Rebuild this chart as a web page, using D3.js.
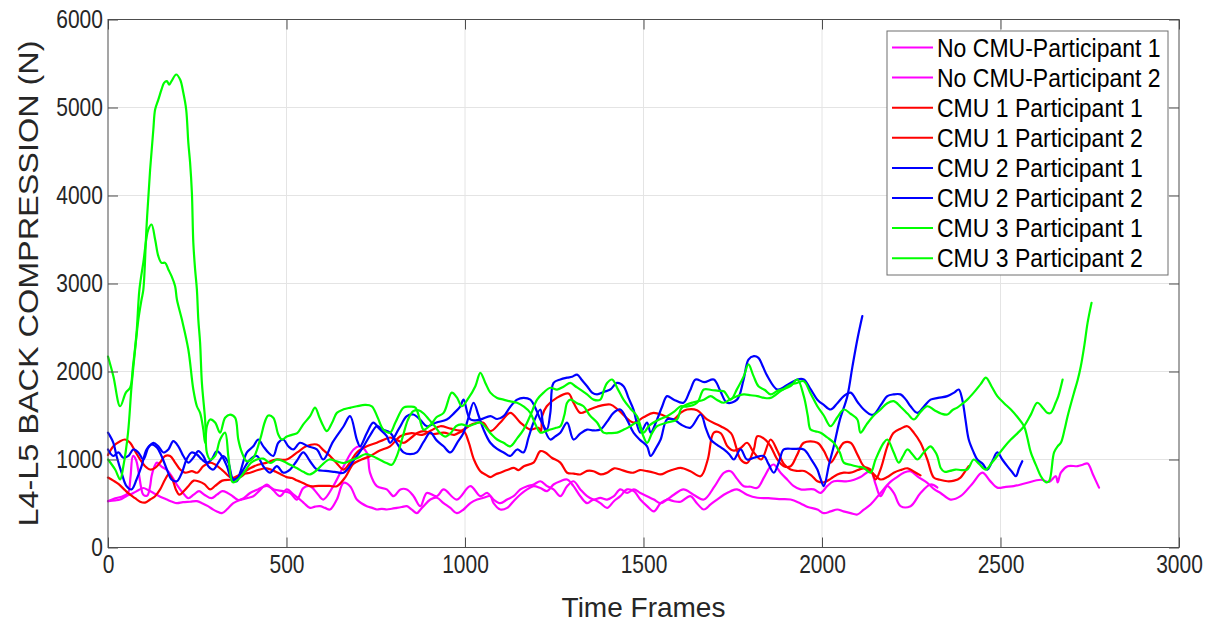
<!DOCTYPE html>
<html>
<head>
<meta charset="utf-8">
<script src="https://cdn.jsdelivr.net/npm/d3@7"></script>
<style>
  body { margin: 0; background: #fff; }
  svg { display: block; font-family: "Liberation Sans", Arial, sans-serif; }
</style>
</head>
<body>
<svg id="chart" width="1219" height="623"></svg>
<script>
// Axis ticks
const xTicks = [0, 500, 1000, 1500, 2000, 2500, 3000];
const yTicks = [0, 1000, 2000, 3000, 4000, 5000, 6000];

// Legend entries and colours (plot order)
const seriesNames = [
  "No CMU-Participant 1", "No CMU-Participant 2",
  "CMU 1 Participant 1", "CMU 1 Participant 2",
  "CMU 2 Participant 1", "CMU 2 Participant 2",
  "CMU 3 Participant 1", "CMU 3 Participant 2"
];
const seriesColors = ["#ff00ff", "#ff00ff", "#ff0000", "#ff0000", "#0000ff", "#0000ff", "#00ff00", "#00ff00"];

// L4-L5 compression (N) per time frame: [frame, value]
const noCmuP1 = [[0,526],[20,535],[34,545],[50,580],[71,620],[85,650],[99,676],[113,650],[127,620],[145,580],[165,545],[180,520],[193,504],[210,515],[230,520],[249,526],[265,500],[280,470],[295,430],[305,410],[319,390],[335,440],[351,504],[370,540],[389,560],[407,583],[425,650],[445,716],[463,650],[482,583],[501,660],[520,600],[538,545],[550,500],[566,450],[580,465],[594,470],[608,450],[622,432],[641,545],[660,735],[678,697],[697,545],[711,500],[725,470],[740,450],[753,432],[767,440],[781,432],[795,440],[809,450],[823,460],[837,470],[851,430],[865,390],[875,430],[884,470],[903,545],[921,565],[940,504],[959,450],[977,390],[996,432],[1015,504],[1034,545],[1052,565],[1071,583],[1080,504],[1099,432],[1118,450],[1136,526],[1155,602],[1174,660],[1192,697],[1211,676],[1230,640],[1248,716],[1267,753],[1286,773],[1304,697],[1323,583],[1342,504],[1360,545],[1379,504],[1398,450],[1417,526],[1435,583],[1454,660],[1473,640],[1491,545],[1510,470],[1529,410],[1548,504],[1566,545],[1585,526],[1604,520],[1631,583],[1650,500],[1669,432],[1688,490],[1706,545],[1725,600],[1744,640],[1762,660],[1790,600],[1819,565],[1850,560],[1880,550],[1912,545],[1940,500],[1960,460],[1987,432],[2005,390],[2024,410],[2043,432],[2060,410],[2080,390],[2099,375],[2117,430],[2136,488],[2164,620],[2190,740],[2210,800],[2229,850],[2248,867],[2270,800],[2295,735],[2315,660],[2332,620],[2360,545],[2388,583],[2420,720],[2449,850],[2470,760],[2491,680],[2515,690],[2537,697],[2570,730],[2613,770],[2636,745],[2655,810],[2660,740],[2669,850],[2688,924],[2716,924],[2730,940],[2744,955],[2760,820],[2776,680]];

const noCmuP2 = [[0,526],[20,560],[40,580],[56,620],[63,800],[70,1040],[78,1000],[86,850],[92,700],[99,600],[110,590],[118,700],[122,810],[130,920],[137,965],[150,920],[165,880],[180,800],[195,700],[210,620],[225,560],[240,600],[255,640],[270,600],[290,560],[305,600],[320,640],[335,620],[350,580],[365,540],[380,560],[398,620],[420,660],[445,700],[465,660],[490,640],[510,620],[529,545],[547,676],[566,697],[585,620],[603,545],[631,697],[660,924],[688,1114],[706,1150],[725,1076],[734,848],[753,697],[781,660],[800,583],[819,660],[837,660],[856,583],[875,470],[893,620],[921,583],[940,660],[977,545],[1015,697],[1043,583],[1062,620],[1080,545],[1099,504],[1118,545],[1136,583],[1155,660],[1174,697],[1192,716],[1211,753],[1230,697],[1248,660],[1267,583],[1286,697],[1304,753],[1323,660],[1342,583],[1360,545],[1379,565],[1398,545],[1417,583],[1435,660],[1454,620],[1473,660],[1491,620],[1510,583],[1529,545],[1548,504],[1566,545],[1585,600],[1612,660],[1640,600],[1669,545],[1700,700],[1725,848],[1744,867],[1762,780],[1781,697],[1800,690],[1819,678],[1838,800],[1856,924],[1865,943],[1884,850],[1903,770],[1920,700],[1940,660],[1977,660],[1996,620],[2015,700],[2033,753],[2071,753],[2090,770],[2108,800],[2136,867],[2150,720],[2164,583],[2183,697],[2201,620],[2220,470],[2248,470],[2276,620],[2304,716],[2323,682]];

const cmu1P1 = [[0,795],[15,760],[30,720],[48,650],[62,600],[76,560],[90,520],[104,510],[118,545],[132,583],[146,660],[160,773],[170,830],[180,780],[190,660],[200,600],[212,640],[225,697],[240,760],[255,750],[270,720],[286,660],[300,700],[320,760],[347,773],[370,800],[385,840],[398,850],[420,880],[445,900],[470,860],[485,830],[500,800],[515,790],[530,760],[548,730],[566,697],[590,700],[620,700],[641,697],[665,800],[687,950],[710,1000],[735,1040],[760,1100],[790,1150],[819,1265],[850,1300],[880,1280],[905,1330],[931,1378],[960,1350],[990,1330],[1020,1400],[1050,1420],[1071,1322],[1099,1420],[1127,1530],[1155,1420],[1183,1340],[1206,1360],[1213,1322],[1216,1492],[1229,1605],[1257,1700],[1290,1750],[1304,1645],[1323,1530],[1345,1560],[1370,1600],[1407,1625],[1430,1560],[1472,1420],[1500,1480],[1528,1530],[1556,1500],[1584,1455],[1604,1530],[1622,1568],[1650,1560],[1678,1455],[1716,1378],[1745,1300],[1772,1000],[1790,960],[1809,1114],[1819,1265],[1840,1230],[1856,1150],[1875,1000],[1893,924],[1912,924],[1930,1050],[1949,1190],[1987,1190],[2005,1100],[2024,965],[2043,1080],[2061,1190],[2080,1190],[2100,1050],[2117,924],[2136,886],[2150,773],[2165,900],[2183,1150],[2200,1300],[2220,1350],[2239,1378],[2258,1300],[2276,1190],[2295,1000],[2313,795],[2330,770],[2351,753],[2370,760],[2388,795],[2400,860],[2411,924]];

const cmu1P2 = [[0,1050],[15,1150],[34,1208],[48,1227],[62,1190],[76,1095],[90,1000],[104,924],[118,886],[132,905],[146,965],[160,1040],[174,1040],[188,965],[202,886],[216,850],[235,867],[250,850],[267,924],[286,965],[300,943],[320,880],[347,790],[370,830],[398,900],[420,940],[445,965],[470,1000],[500,1000],[530,1080],[555,1150],[585,1170],[605,1100],[622,1040],[640,960],[660,886],[680,980],[697,1080],[725,1150],[753,1190],[770,1220],[790,1250],[810,1220],[828,1190],[850,1250],[866,1300],[884,1322],[910,1290],[940,1305],[970,1280],[996,1322],[1010,1200],[1025,1000],[1043,867],[1057,830],[1071,800],[1085,830],[1099,850],[1118,880],[1137,905],[1150,880],[1165,924],[1192,965],[1211,1095],[1225,1080],[1243,1020],[1267,965],[1286,850],[1305,840],[1323,830],[1342,870],[1360,867],[1380,830],[1398,850],[1418,900],[1435,886],[1455,860],[1472,850],[1490,880],[1510,867],[1530,850],[1548,830],[1566,860],[1584,886],[1604,905],[1630,870],[1660,810],[1680,1000],[1697,1305],[1716,1300],[1735,1150],[1753,1100],[1772,1130],[1790,1190],[1809,1080],[1830,1000],[1856,1227],[1875,1100],[1893,950],[1912,886],[1930,870],[1950,870],[1970,820],[1987,753],[2005,740],[2024,780],[2043,830],[2061,850],[2080,850],[2100,880],[2117,900],[2136,867],[2164,773],[2183,800],[2201,850],[2220,880],[2240,900],[2258,860],[2276,820]];

const cmu2P1 = [[0,1114],[15,1040],[29,1080],[43,1020],[57,1040],[71,1114],[85,1080],[99,1000],[113,1136],[127,1190],[141,1150],[155,1080],[169,1114],[183,1208],[197,1150],[211,1040],[225,965],[239,1020],[253,1095],[267,1040],[281,924],[295,886],[309,965],[323,1040],[337,965],[351,773],[365,800],[379,886],[398,1000],[417,1040],[435,924],[454,850],[473,924],[491,850],[510,886],[528,980],[547,1080],[566,980],[585,886],[610,870],[635,860],[660,850],[690,1000],[716,1150],[735,1280],[753,1378],[770,1340],[790,1305],[810,1180],[828,1080],[846,1060],[865,1080],[884,1200],[903,1305],[920,1220],[940,1150],[959,1080],[978,1190],[996,1305],[1010,1480],[1024,1645],[1038,1500],[1052,1340],[1071,1190],[1090,1120],[1108,1080],[1127,1040],[1146,1114],[1164,1080],[1178,1250],[1192,1420],[1211,1568],[1220,1378],[1239,1227],[1252,1260],[1267,1305],[1286,1420],[1304,1227],[1322,1290],[1342,1340],[1360,1330],[1379,1340],[1398,1430],[1416,1530],[1435,1568],[1454,1450],[1472,1305],[1491,1220],[1510,1150],[1520,1040],[1535,1130],[1548,1227],[1566,1455],[1585,1455],[1604,1400],[1631,1360],[1660,1511],[1675,1350],[1688,1227],[1705,1170],[1725,1114],[1740,1060],[1753,1000],[1772,1114],[1790,1000],[1810,1020],[1837,1040],[1850,950],[1865,850],[1880,980],[1893,1114],[1920,1120],[1949,1114],[1970,1000],[1987,886],[1996,780],[2005,697],[2020,950],[2033,1150],[2050,1450],[2071,1720],[2085,2050],[2099,2364],[2113,2630]];

const cmu2P2 = [[0,1305],[15,1190],[24,1040],[38,850],[52,697],[66,660],[80,773],[94,924],[108,1114],[122,1170],[137,1136],[150,1040],[165,886],[178,773],[193,753],[207,850],[220,1000],[234,1080],[249,1057],[263,1000],[277,965],[290,1000],[305,1095],[319,1040],[333,924],[347,773],[361,753],[370,850],[389,1080],[407,1150],[421,1227],[435,1150],[449,1080],[463,1040],[477,1190],[491,1227],[505,1150],[519,1114],[538,1190],[560,1150],[585,1114],[603,1000],[630,1200],[660,1378],[678,1492],[697,1227],[706,1150],[725,1300],[743,1420],[760,1350],[781,1265],[790,1190],[815,1350],[837,1492],[855,1511],[875,1450],[893,1378],[920,1420],[949,1455],[970,1530],[987,1605],[996,1680],[1015,1455],[1043,1455],[1071,1492],[1090,1460],[1108,1492],[1127,1600],[1146,1680],[1164,1700],[1183,1680],[1200,1560],[1211,1455],[1229,1340],[1239,1530],[1248,1870],[1267,1910],[1286,1930],[1300,1940],[1314,1965],[1328,1900],[1342,1833],[1356,1760],[1370,1740],[1390,1770],[1407,1795],[1426,1870],[1444,1833],[1458,1700],[1472,1568],[1491,1305],[1510,1420],[1520,1305],[1538,1455],[1552,1600],[1566,1720],[1585,1680],[1612,1645],[1630,1780],[1646,1909],[1670,1880],[1697,1909],[1715,1780],[1734,1645],[1762,1680],[1780,1900],[1794,2136],[1809,2174],[1822,2155],[1835,2050],[1847,1947],[1875,1795],[1900,1840],[1931,1909],[1949,1909],[1968,1800],[1987,1680],[2005,1620],[2024,1568],[2043,1640],[2061,1720],[2080,1760],[2100,1650],[2117,1568],[2136,1511],[2145,1511],[2165,1620],[2183,1720],[2200,1740],[2220,1740],[2235,1680],[2248,1605],[2267,1530],[2285,1600],[2304,1680],[2325,1700],[2351,1720],[2370,1760],[2383,1795],[2393,1680],[2402,1450],[2411,1227],[2425,1080],[2435,1000],[2450,950],[2463,886],[2477,980],[2491,1080],[2505,1000],[2519,924],[2532,860],[2543,810],[2552,900],[2561,980]];

const cmu3P1 = [[0,2170],[15,1947],[34,1605],[50,1760],[62,1815],[70,2060],[80,2440],[88,2930],[99,3240],[113,3614],[122,3670],[132,3500],[141,3310],[150,3235],[160,3235],[169,3160],[178,3083],[188,2970],[193,2818],[207,2590],[225,2250],[239,1795],[249,1605],[258,1530],[267,1340],[272,1190],[277,1378],[286,1455],[300,1420],[314,1305],[328,1475],[342,1511],[356,1475],[365,1227],[375,1080],[389,980],[407,1020],[426,1227],[440,1435],[449,1500],[463,1475],[477,1284],[487,1227],[501,1261],[515,1280],[530,1300],[547,1400],[566,1492],[580,1590],[592,1480],[603,1380],[613,1322],[628,1420],[641,1530],[660,1570],[680,1590],[697,1605],[720,1620],[739,1605],[755,1480],[771,1340],[790,1305],[805,1420],[828,1590],[845,1600],[861,1590],[873,1460],[884,1340],[905,1400],[920,1480],[940,1530],[963,1760],[978,1700],[991,1605],[1010,1700],[1029,1833],[1043,1985],[1057,1870],[1071,1760],[1090,1700],[1108,1680],[1127,1660],[1146,1645],[1165,1600],[1183,1530],[1197,1400],[1211,1305],[1225,1320],[1239,1340],[1255,1360],[1267,1378],[1278,1500],[1286,1645],[1295,1680],[1314,1640],[1332,1605],[1350,1500],[1370,1420],[1388,1305],[1407,1300],[1426,1305],[1445,1340],[1464,1380],[1482,1420],[1496,1300],[1510,1190],[1524,1300],[1538,1378],[1566,1420],[1594,1455],[1604,1568],[1612,1605],[1640,1650],[1669,1680],[1688,1720],[1705,1680],[1725,1645],[1750,1700],[1781,1740],[1800,1730],[1819,1720],[1838,1700],[1856,1700],[1885,1780],[1912,1850],[1930,1870],[1949,1890],[1968,1750],[1987,1605],[2005,1500],[2024,1378],[2043,1480],[2061,1568],[2080,1520],[2099,1455],[2108,1305],[2125,1400],[2145,1500],[2164,1568],[2183,1640],[2201,1663],[2220,1600],[2240,1520],[2257,1455],[2276,1540],[2295,1605],[2315,1560],[2335,1520],[2351,1511],[2365,1560],[2379,1590],[2395,1640],[2407,1680],[2425,1760],[2445,1860],[2459,1930],[2475,1830],[2491,1720],[2510,1640],[2529,1568],[2548,1480],[2566,1378],[2575,1250],[2585,1080],[2600,930],[2613,810],[2627,742],[2636,753],[2650,1080],[2660,1150],[2669,1190],[2680,1350],[2688,1492],[2706,1760],[2716,1900],[2725,2060],[2735,2300],[2744,2555],[2755,2780]];

const cmu3P2 = [[0,1000],[20,886],[34,773],[43,924],[56,1300],[66,1833],[76,2250],[85,2590],[94,2818],[99,2930],[108,3650],[118,4295],[127,4750],[132,4977],[141,5090],[150,5205],[157,5280],[165,5300],[171,5260],[178,5300],[191,5375],[202,5318],[211,5167],[219,4977],[225,4600],[230,4370],[235,4030],[239,3463],[244,3160],[249,2930],[253,2590],[258,2326],[263,1870],[272,1455],[277,1076],[286,1000],[300,1040],[314,1227],[328,1305],[337,1040],[347,753],[351,740],[361,760],[375,820],[389,900],[400,960],[417,1000],[435,1010],[454,960],[473,1000],[491,980],[510,940],[530,900],[547,860],[566,830],[585,880],[600,940],[620,1000],[640,980],[660,960],[680,990],[700,1020],[720,1060],[740,1040],[760,1000],[780,960],[795,940],[810,1050],[825,1250],[840,1450],[855,1550],[870,1560],[885,1520],[900,1450],[915,1380],[930,1300],[945,1260],[960,1300],[975,1380],[990,1400],[1010,1380],[1025,1400],[1043,1420],[1071,1300],[1090,1227],[1108,1190],[1127,1150],[1146,1240],[1164,1340],[1183,1500],[1202,1680],[1220,1760],[1239,1815],[1258,1795],[1277,1830],[1295,1870],[1310,1830],[1323,1795],[1342,1740],[1360,1680],[1379,1680],[1390,1800],[1398,1870],[1412,1909],[1428,1800],[1444,1680],[1463,1580],[1482,1492],[1500,1305],[1515,1380],[1528,1420],[1547,1460],[1566,1492],[1585,1540],[1604,1605],[1620,1600],[1650,1645],[1669,1795],[1690,1790],[1710,1780],[1725,1776],[1744,1680],[1762,1800],[1781,1947],[1794,2080],[1808,1950],[1822,1833],[1840,1790],[1856,1740],[1875,1780],[1893,1800],[1912,1833],[1931,1909],[1949,1720],[1960,1500],[1968,1340],[1982,1320],[1996,1305],[2015,1250],[2033,1190],[2050,1080],[2061,965],[2080,940],[2099,920],[2117,905],[2136,850],[2150,1000],[2173,1190],[2183,1227],[2201,1080],[2215,965],[2227,1040],[2239,1114],[2253,1060],[2267,1000],[2285,1080],[2304,1150],[2315,1100],[2323,1040],[2333,900],[2343,860],[2358,870],[2374,886],[2390,880],[2407,886],[2425,1000],[2440,950],[2459,886],[2475,960],[2491,1040],[2510,1140],[2529,1227],[2548,1300],[2566,1378],[2585,1510],[2603,1645],[2620,1580],[2631,1530],[2641,1530],[2655,1650],[2662,1720],[2674,1909]];

const series = [noCmuP1, noCmuP2, cmu1P1, cmu1P2, cmu2P1, cmu2P2, cmu3P1, cmu3P2];

// Plot geometry
const W = 1219, H = 623;
const pLeft = 108, pRight = 1179, pTop = 19.5, pBottom = 547.5;

const svg = d3.select("#chart");
svg.append("rect").attr("width", W).attr("height", H).attr("fill", "#fff");

const x = d3.scaleLinear().domain([0, 3000]).range([pLeft, pRight]);
const y = d3.scaleLinear().domain([0, 6000]).range([pBottom, pTop]);

// Grid
const grid = svg.append("g").attr("stroke", "#e4e4e4").attr("stroke-width", 1);
grid.selectAll(".gx").data(xTicks.slice(1, -1)).join("line")
  .attr("x1", d => x(d)).attr("x2", d => x(d)).attr("y1", pTop).attr("y2", pBottom);
grid.selectAll(".gy").data(yTicks.slice(1, -1)).join("line")
  .attr("x1", pLeft).attr("x2", pRight).attr("y1", d => y(d)).attr("y2", d => y(d));

// Series lines
const line = d3.line().x(d => x(d[0])).y(d => y(d[1])).curve(d3.curveCatmullRom.alpha(0.5));
svg.append("g").selectAll("path").data(series).join("path")
  .attr("d", line)
  .attr("fill", "none")
  .attr("stroke", (d, i) => seriesColors[i])
  .attr("stroke-width", 2.2)
  .attr("stroke-linejoin", "round")
  .attr("stroke-linecap", "round");

// Axes box with inward ticks on all four sides
const axisColor = "#4d4d4d";
const labelColor = "#262626";
const fmt = d3.format("d");
function styleAxis(g) {
  g.select(".domain").remove();
  g.selectAll(".tick line").attr("stroke", axisColor);
}
const gB = svg.append("g").attr("transform", `translate(0,${pBottom})`)
  .call(d3.axisBottom(x).tickValues(xTicks).tickFormat(fmt).tickSizeInner(-10).tickSizeOuter(0).tickPadding(8))
  .call(styleAxis);
gB.selectAll(".tick text").attr("font-size", 25).attr("fill", labelColor)
  .attr("font-family", '"Liberation Sans", Arial, sans-serif')
  .attr("transform", "scale(0.84,1)");

const gL = svg.append("g").attr("transform", `translate(${pLeft},0)`)
  .call(d3.axisLeft(y).tickValues(yTicks).tickFormat(fmt).tickSizeInner(-10).tickSizeOuter(0).tickPadding(6))
  .call(styleAxis);
gL.selectAll(".tick text").attr("font-size", 25).attr("fill", labelColor)
  .attr("font-family", '"Liberation Sans", Arial, sans-serif')
  .attr("transform", "scale(0.84,1)");

svg.append("g").attr("transform", `translate(0,${pTop})`)
  .call(d3.axisTop(x).tickValues(xTicks).tickSizeInner(-10).tickSizeOuter(0).tickFormat(""))
  .call(styleAxis);
svg.append("g").attr("transform", `translate(${pRight},0)`)
  .call(d3.axisRight(y).tickValues(yTicks).tickSizeInner(-10).tickSizeOuter(0).tickFormat(""))
  .call(styleAxis);

svg.append("rect")
  .attr("x", pLeft).attr("y", pTop).attr("width", pRight - pLeft).attr("height", pBottom - pTop)
  .attr("fill", "none").attr("stroke", axisColor).attr("stroke-width", 1);

// Axis titles
svg.append("text")
  .attr("x", (pLeft + pRight) / 2).attr("y", 617)
  .attr("text-anchor", "middle").attr("font-size", 28).attr("fill", labelColor)
  .text("Time Frames");

svg.append("text")
  .attr("transform", `translate(38,${(pTop + pBottom) / 2}) rotate(-90)`)
  .attr("text-anchor", "middle").attr("font-size", 28).attr("fill", labelColor)
  .attr("textLength", 486).attr("lengthAdjust", "spacingAndGlyphs")
  .text("L4-L5 BACK COMPRESSION (N)");

// Legend
const lg = svg.append("g");
lg.append("rect").attr("x", 887).attr("y", 31).attr("width", 281).attr("height", 244)
  .attr("fill", "#fff").attr("stroke", "#6e6e6e").attr("stroke-width", 1);
const rowY = i => 47.5 + i * 30.1;
lg.selectAll(".ln").data(seriesNames).join("line")
  .attr("x1", 892).attr("x2", 933)
  .attr("y1", (d, i) => rowY(i)).attr("y2", (d, i) => rowY(i))
  .attr("stroke", (d, i) => seriesColors[i]).attr("stroke-width", 2);
lg.selectAll(".lt").data(seriesNames).join("text")
  .attr("transform", (d, i) => `translate(937,${rowY(i) + 9}) scale(0.92,1)`)
  .attr("font-size", 25).attr("fill", "#000")
  .text(d => d);
</script>
</body>
</html>
